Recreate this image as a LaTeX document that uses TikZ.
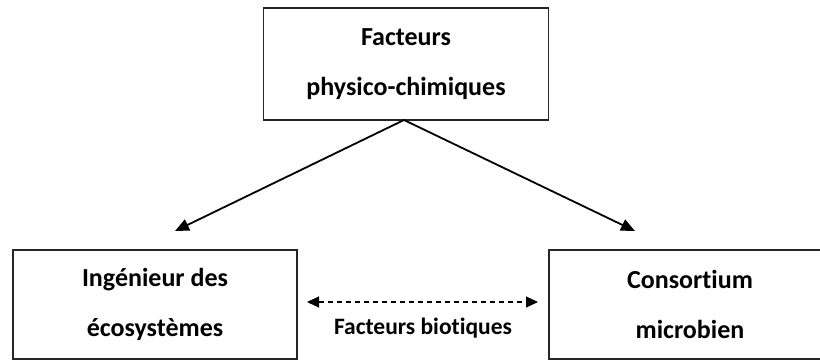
\documentclass[tikz,border=0pt]{standalone}
\usepackage{fontspec}
\setmainfont[Ligatures=NoCommon]{Carlito}
\usetikzlibrary{arrows.meta}
\begin{document}
\begin{tikzpicture}[x=1pt,y=-1pt,
  boxnode/.style={draw=black!85,line width=1.4pt,rectangle,inner sep=0pt,align=center,
    font=\bfseries\fontsize{26}{50}\selectfont},
  lbl/.style={font=\bfseries\fontsize{23.5}{26}\selectfont,inner sep=0pt},
  arr/.style={line width=1.8pt,-{Triangle[length=14pt,width=12pt]}},
  darr/.style={line width=1.1pt,dash pattern=on 5pt off 4pt,{Triangle[length=12pt,width=11pt]}-{Triangle[length=12pt,width=11pt]}}]
\useasboundingbox (0,0) rectangle (820,360);
\clip (0,0) rectangle (820,360);
\node[boxnode,minimum width=285pt,minimum height=112pt] (top) at (406,64) {Facteurs\\physico-chimiques};
\node[boxnode,minimum width=284pt,minimum height=109pt] (left) at (155,304.5) {Ingénieur des\\écosystèmes};
\node[boxnode,minimum width=282pt,minimum height=109pt] (right) at (690,304.5) {Consortium\\microbien};
\coordinate (src) at (404,120);
\coordinate (lt) at (175,231);
\coordinate (rt) at (635,231);
\coordinate (dl) at (307,302);
\coordinate (dr) at (538,302);
\draw[arr] (src) -- (lt);
\draw[arr] (src) -- (rt);
\draw[darr] (dl) -- (dr);
\node[lbl] (bio) at (423,328) {Facteurs biotiques};
\end{tikzpicture}
\end{document}
